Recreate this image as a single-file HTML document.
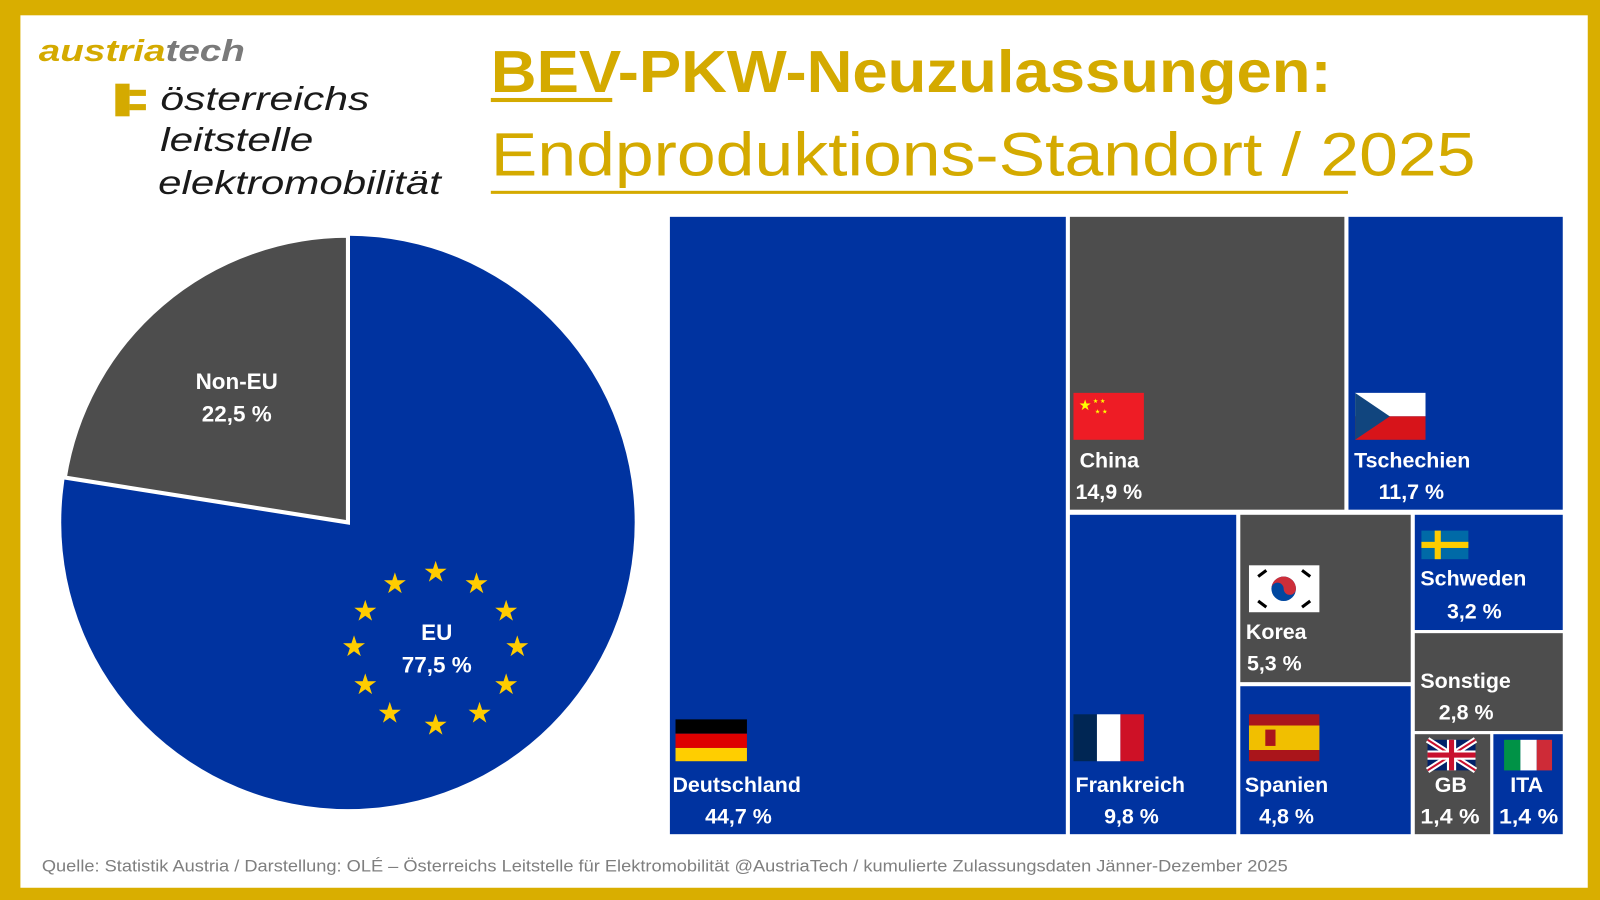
<!DOCTYPE html>
<html><head><meta charset="utf-8"><style>html,body{margin:0;padding:0;background:#fff}svg{display:block}</style></head><body>
<svg width="1600" height="900" viewBox="0 0 1568 882" xmlns="http://www.w3.org/2000/svg" font-family="'Liberation Sans', sans-serif">
<rect width="1568" height="882" fill="#D9AE00"/>
<rect x="20" y="15" width="1536" height="855" fill="#fff"/>
<!-- logo -->
<text x="38" y="60" font-size="30" font-style="italic" font-weight="bold" textLength="202" lengthAdjust="spacingAndGlyphs"><tspan fill="#D4AA00">austria</tspan><tspan fill="#7a7a7a">tech</tspan></text>
<rect x="113" y="82" width="14" height="32" fill="#D4AA00"/><rect x="127" y="88" width="16" height="6" fill="#D4AA00"/><rect x="127" y="102" width="16" height="6" fill="#D4AA00"/>
<g font-size="33" font-style="italic" fill="#1a1a1a">
<text x="157" y="108" textLength="205" lengthAdjust="spacingAndGlyphs">österreichs</text>
<text x="157" y="148" textLength="150" lengthAdjust="spacingAndGlyphs">leitstelle</text>
<text x="155" y="190" textLength="277" lengthAdjust="spacingAndGlyphs">elektromobilität</text>
</g>
<!-- title -->
<text x="481" y="90" font-size="58" font-weight="bold" fill="#D4AA00" textLength="824" lengthAdjust="spacingAndGlyphs">BEV-PKW-Neuzulassungen:</text>
<rect x="481" y="96" width="119" height="4" fill="#D4AA00"/>
<text x="481" y="172" font-size="60" fill="#D4AA00" textLength="965" lengthAdjust="spacingAndGlyphs">Endproduktions-Standort / 2025</text>
<rect x="481" y="187" width="840" height="3" fill="#D4AA00"/>
<!-- pie -->
<circle cx="341" cy="512" r="281" fill="#0033A0"/>
<path d="M341,512 L341,231 A281,281 0 0 0 63.5,468 Z" fill="#4D4D4D" stroke="#fff" stroke-width="4"/>
<g font-size="22" font-weight="bold" fill="#fff" text-anchor="middle">
<text x="232" y="381">Non-EU</text><text x="232" y="413">22,5 %</text>
<text x="428" y="627">EU</text><text x="428" y="659">77,5 %</text>
</g>
<g fill="#FFCC00" id="stars"></g>
<!-- treemap -->
<g stroke="#fff" stroke-width="3">
<rect x="655" y="211" width="391" height="608" fill="#0033A0"/>
<rect x="1047" y="211" width="272" height="290" fill="#4D4D4D"/>
<rect x="1320" y="211" width="213" height="290" fill="#0033A0"/>
<rect x="1047" y="503" width="166" height="316" fill="#0033A0"/>
<rect x="1214" y="503" width="170" height="167" fill="#4D4D4D"/>
<rect x="1214" y="671" width="170" height="148" fill="#0033A0"/>
<rect x="1385" y="503" width="148" height="116" fill="#0033A0"/>
<rect x="1385" y="619" width="148" height="99" fill="#4D4D4D"/>
<rect x="1385" y="718" width="77" height="101" fill="#4D4D4D"/>
<rect x="1462" y="718" width="71" height="101" fill="#0033A0"/>
</g>
<!-- flags -->
<rect x="662" y="705" width="70" height="14" fill="#000"/><rect x="662" y="719" width="70" height="14" fill="#DD0000"/><rect x="662" y="733" width="70" height="13" fill="#FFCE00"/>
<rect x="1052" y="385" width="69" height="46" fill="#EE1C25"/><text x="1057" y="402" font-size="14" fill="#FFFF00">★</text><text x="1071" y="395" font-size="6" fill="#FFFF00">★ ★</text><text x="1073" y="405" font-size="6" fill="#FFFF00">★ ★</text>
<rect x="1328" y="385" width="69" height="23" fill="#fff"/><rect x="1328" y="408" width="69" height="23" fill="#D7141A"/><path d="M1328,385 L1362,408 L1328,431 Z" fill="#11457E"/>
<rect x="1393" y="520" width="46" height="28" fill="#006AA7"/><rect x="1393" y="531" width="46" height="6" fill="#FECC00"/><rect x="1406" y="520" width="6" height="28" fill="#FECC00"/>
<rect x="1224" y="554" width="69" height="46" fill="#fff"/><circle cx="1258" cy="577" r="12" fill="#0047A0"/><path d="M1246,577 A12,12 0 0 1 1270,577 A6,6 0 0 1 1258,577 A6,6 0 0 0 1246,577Z" fill="#CD2E3A"/>
<g stroke="#000" stroke-width="3"><line x1="1233" y1="565" x2="1241" y2="559"/><line x1="1276" y1="559" x2="1284" y2="565"/><line x1="1233" y1="589" x2="1241" y2="595"/><line x1="1276" y1="595" x2="1284" y2="589"/></g>
<rect x="1052" y="700" width="23" height="46" fill="#002654"/><rect x="1075" y="700" width="23" height="46" fill="#fff"/><rect x="1098" y="700" width="23" height="46" fill="#CE1126"/>
<rect x="1224" y="700" width="69" height="46" fill="#AA151B"/><rect x="1224" y="711" width="69" height="24" fill="#F1BF00"/><rect x="1240" y="715" width="10" height="16" fill="#AA151B"/>
<rect x="1399" y="725" width="47" height="30" fill="#012169"/><path d="M1399,725 L1446,755 M1446,725 L1399,755" stroke="#fff" stroke-width="6"/><path d="M1399,725 L1446,755 M1446,725 L1399,755" stroke="#C8102E" stroke-width="2"/><path d="M1422.5,725 V755 M1399,740 H1446" stroke="#fff" stroke-width="9"/><path d="M1422.5,725 V755 M1399,740 H1446" stroke="#C8102E" stroke-width="5"/>
<rect x="1474" y="725" width="16" height="30" fill="#009246"/><rect x="1490" y="725" width="16" height="30" fill="#fff"/><rect x="1506" y="725" width="15" height="30" fill="#CE2B37"/>
<!-- labels -->
<g font-size="21" font-weight="bold" fill="#fff">
<text x="659" y="776">Deutschland</text><text x="691" y="807">44,7 %</text>
<text x="1058" y="458">China</text><text x="1054" y="489">14,9 %</text>
<text x="1327" y="458">Tschechien</text><text x="1351" y="489">11,7 %</text>
<text x="1392" y="574">Schweden</text><text x="1418" y="606">3,2 %</text>
<text x="1221" y="626">Korea</text><text x="1222" y="657">5,3 %</text>
<text x="1392" y="674">Sonstige</text><text x="1410" y="705">2,8 %</text>
<text x="1054" y="776">Frankreich</text><text x="1082" y="807">9,8 %</text>
<text x="1220" y="776">Spanien</text><text x="1234" y="807">4,8 %</text>
<text x="1406" y="776">GB</text><text x="1392" y="807" textLength="58" lengthAdjust="spacingAndGlyphs">1,4 %</text>
<text x="1480" y="776">ITA</text><text x="1469" y="807" textLength="58" lengthAdjust="spacingAndGlyphs">1,4 %</text>
</g>
<text x="41" y="854" font-size="16" fill="#7f7f7f" textLength="1221" lengthAdjust="spacingAndGlyphs">Quelle: Statistik Austria / Darstellung: OLÉ – Österreichs Leitstelle für Elektromobilität @AustriaTech / kumulierte Zulassungsdaten Jänner-Dezember 2025</text>
<g fill="#FFCC00" font-size="28" text-anchor="middle">
<text x="427" y="570">★</text><text x="467" y="581">★</text><text x="496" y="608">★</text><text x="507" y="643">★</text><text x="496" y="680">★</text><text x="470" y="708">★</text><text x="427" y="720">★</text><text x="382" y="708">★</text><text x="358" y="680">★</text><text x="347" y="643">★</text><text x="358" y="608">★</text><text x="387" y="581">★</text>
</g>
</svg>
</body></html>
